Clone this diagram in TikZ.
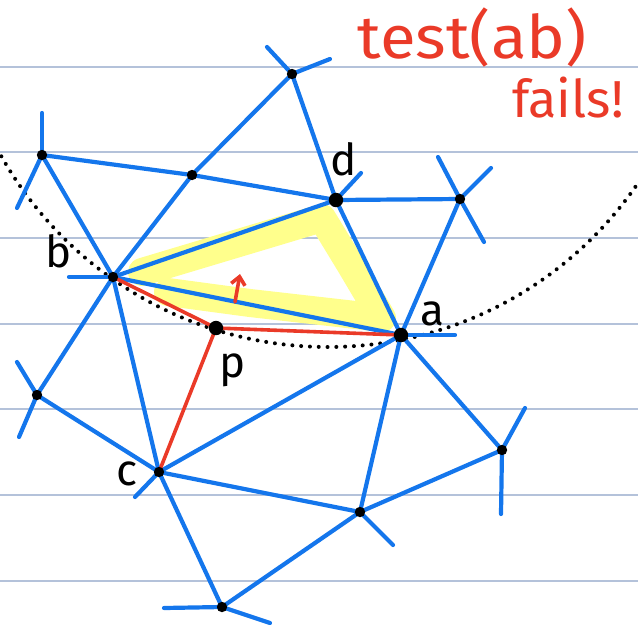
\documentclass[tikz,border=0pt]{standalone}
\usepackage{fontspec}
\setsansfont{Fira Sans}
\usetikzlibrary{arrows.meta}
\definecolor{meshblue}{RGB}{20,118,236}
\definecolor{inkred}{RGB}{234,58,40}
\definecolor{ruleblue}{RGB}{180,194,218}
\definecolor{hilite}{RGB}{255,255,140}

\begin{document}
\begin{tikzpicture}[x=0.5pt,y=-0.5pt,
  edge/.style={meshblue,line width=2.1pt,line cap=round},
  redge/.style={inkred,line width=1.8pt,line cap=round},
  dots/.style={black,line width=2pt,line cap=round,dash pattern=on 0pt off 4.4pt},
  lbl/.style={font=\sffamily\fontsize{22}{22}\selectfont},
  note/.style={inkred,font=\sffamily\fontsize{30}{30}\selectfont}]
\useasboundingbox (0,0) rectangle (638,628);
% ruled paper
\foreach \i in {0,...,6}
  \draw[ruleblue,line width=1pt] (0,66.7+85.67*\i) -- (638,66.7+85.67*\i);
% vertices
\coordinate (vt)   at (292,74);
\coordinate (vtl)  at (42,155);
\coordinate (vtm)  at (192,175);
\coordinate (b)    at (113,277);
\coordinate (d)    at (336,200);
\coordinate (vtr)  at (460,199);
\coordinate (a)    at (401,335);
\coordinate (p)    at (216,328);
\coordinate (vl)   at (37,395);
\coordinate (c)    at (159,472);
\coordinate (vbot) at (222,607);
\coordinate (vbm)  at (360,512);
\coordinate (vr)   at (502,450);
% loose ends
\coordinate (vt1)   at (267,47);  \coordinate (vt2)   at (330,59);
\coordinate (vtl1)  at (42,113);  \coordinate (vtl2)  at (17,208);
\coordinate (b1)    at (69,277);
\coordinate (d1)    at (361,173);
\coordinate (vtr1)  at (438,157); \coordinate (vtr2)  at (491,168); \coordinate (vtr3) at (484,242);
\coordinate (a1)    at (455,335);
\coordinate (vl1)   at (17,362);  \coordinate (vl2)   at (19,437);
\coordinate (c1)    at (135,497);
\coordinate (vbot1) at (164,608); \coordinate (vbot2) at (270,623);
\coordinate (vbm1)  at (393,545);
\coordinate (vr1)   at (525,408); \coordinate (vr2)   at (501,514);
% highlighted triangle
\draw[hilite,line width=14pt,line join=round,line cap=round]
  (142,272) -- (322,218) -- (350,264) -- (382,318) -- (250,303) -- (168,292);
% circumcircle
\begin{scope}
\clip (0,0) rectangle (638,628);
\draw[dots] (328,-28) circle[radius=375];
\end{scope}
% mesh
\foreach \u/\v in {vt/vtm,vtm/b,vt/d,vtl/vtm,vtm/d,vtl/b,b/d,b/a,b/vl,b/c,d/a,d/vtr,
  vtr/a,a/vr,a/vbm,a/c,c/vbm,c/vbot,c/vl,vbot/vbm,vbm/vr}
  \draw[edge] (\u) -- (\v);
\foreach \u/\v in {vt/vt1,vt/vt2,vtl/vtl1,vtl/vtl2,b/b1,d/d1,vtr/vtr1,vtr/vtr2,vtr/vtr3,
  a/a1,vl/vl1,vl/vl2,c/c1,vbot/vbot1,vbot/vbot2,vbm/vbm1,vr/vr1,vr/vr2}
  \draw[edge] (\u) -- (\v);
% new point
\draw[redge] (b) -- (p) -- (a);
\draw[redge] (p) -- (c);
\coordinate (arr0) at (235,302);
\coordinate (arr1) at (240,274);
\draw[redge,-{Straight Barb[length=4pt,width=7pt]}] (arr0) -- (arr1);
\foreach \v in {vt,vtl,vtm,b,vtr,vl,c,vbot,vbm,vr}
  \fill (\v) circle[radius=2.6pt];
\foreach \v in {d,a,p}
  \fill (\v) circle[radius=3.6pt];
% labels
\node[lbl,anchor=base] (lb) at (59,267) {b};
\node[lbl,anchor=base] (ld) at (344,175) {d};
\node[lbl,anchor=base] (la) at (432,325) {a};
\node[lbl,anchor=base] (lp) at (233,377) {p};
\node[lbl,anchor=base] (lc) at (127,485) {c};
\node[note,anchor=base west,xscale=1.09,inner sep=0pt] (ttest) at (357,58) {test(ab)};
\node[note,anchor=base west,inner sep=0pt,font=\sffamily\fontsize{26}{26}\selectfont] (tfail) at (512,117) {fails!};
\end{tikzpicture}
\end{document}
